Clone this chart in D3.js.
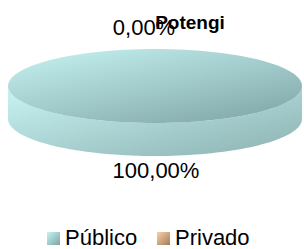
<!DOCTYPE html>
<html>
<head>
<meta charset="utf-8">
<script src="https://cdn.jsdelivr.net/npm/d3@7.9.0/dist/d3.min.js"></script>
<style>
  html, body { margin: 0; padding: 0; background: #fff; }
  svg { display: block; font-family: "Liberation Sans", Arial, sans-serif; }
</style>
</head>
<body>
<svg id="chart" width="304" height="249"></svg>
<script>
const categories = ["Público", "Privado"];
const values = [100, 0];
const valueLabels = ["100,00%", "0,00%"];
const title = "Potengi";

const svg = d3.select("#chart");
const cx = 155, cy = 86, rx = 147, ry = 37, depth = 33;

const defs = svg.append("defs");
function grad(id, x1, y1, x2, y2, c1, c2) {
  const g = defs.append("linearGradient").attr("id", id)
    .attr("x1", x1).attr("y1", y1).attr("x2", x2).attr("y2", y2);
  g.append("stop").attr("offset", "0%").attr("stop-color", c1);
  g.append("stop").attr("offset", "100%").attr("stop-color", c2);
}
grad("topPub", "10%", "0%", "90%", "100%", "#c4f0f0", "#80a6a6");
grad("sidePub", "0%", "0%", "100%", "100%", "#c8f4f3", "#8cb1b1");
grad("topPri", "10%", "0%", "90%", "100%", "#f4cfa2", "#b08462");
grad("sidePri", "0%", "0%", "100%", "100%", "#f6d3a8", "#a77a58");
grad("legPub", "0%", "0%", "100%", "100%", "#c6f3f2", "#7fa4a4");
grad("legPri", "0%", "0%", "100%", "100%", "#f6d3a8", "#a77a58");
const fills = [["url(#topPub)", "url(#sidePub)", "url(#legPub)"],
               ["url(#topPri)", "url(#sidePri)", "url(#legPri)"]];

const pie = d3.pie().sort(null).value(d => d)(values);

const px = a => cx + rx * Math.sin(a);
const py = (a, dy = 0) => cy - ry * Math.cos(a) + dy;

function topPath(s, e) {
  const n = 120, pts = [];
  for (let i = 0; i <= n; i++) {
    const a = s + (e - s) * i / n;
    pts.push([px(a), py(a)]);
  }
  if (e - s < 2 * Math.PI - 1e-6) pts.push([cx, cy]);
  return d3.line()(pts) + "Z";
}

function sidePath(s, e) {
  const a0 = Math.max(s, Math.PI / 2), a1 = Math.min(e, 3 * Math.PI / 2);
  if (a1 <= a0) return null;
  const n = 80, up = [], down = [];
  for (let i = 0; i <= n; i++) {
    const a = a0 + (a1 - a0) * i / n;
    up.push([px(a), py(a)]);
    down.unshift([px(a), py(a, depth)]);
  }
  return d3.line()(up.concat(down)) + "Z";
}

const g = svg.append("g");
pie.forEach((d, i) => {
  if (d.endAngle - d.startAngle <= 0) return;
  const sp = sidePath(d.startAngle, d.endAngle);
  if (sp) g.append("path").attr("d", sp).attr("fill", fills[i][1]);
});
pie.forEach((d, i) => {
  if (d.endAngle - d.startAngle <= 0) return;
  g.append("path").attr("d", topPath(d.startAngle, d.endAngle)).attr("fill", fills[i][0]);
});

// value labels
const labelOffsetX = [1, -11];
const labelY = [178, 35];
pie.forEach((d, i) => {
  const mid = (d.startAngle + d.endAngle) / 2;
  svg.append("text")
    .attr("x", px(mid) + labelOffsetX[i])
    .attr("y", labelY[i])
    .attr("text-anchor", "middle")
    .attr("font-size", 22)
    .attr("fill", "#000")
    .text(valueLabels[i]);
});

svg.append("text")
  .attr("x", 190).attr("y", 29)
  .attr("text-anchor", "middle")
  .attr("font-size", 19).attr("font-weight", "bold")
  .text(title);

// legend
const legX = [47, 157];
const leg = svg.append("g");
categories.forEach((c, i) => {
  leg.append("rect").attr("x", legX[i]).attr("y", 232).attr("width", 13).attr("height", 13)
    .attr("fill", fills[i][2]);
  leg.append("text").attr("x", legX[i] + 18).attr("y", 245)
    .attr("font-size", 22).text(c);
});
</script>
</body>
</html>
